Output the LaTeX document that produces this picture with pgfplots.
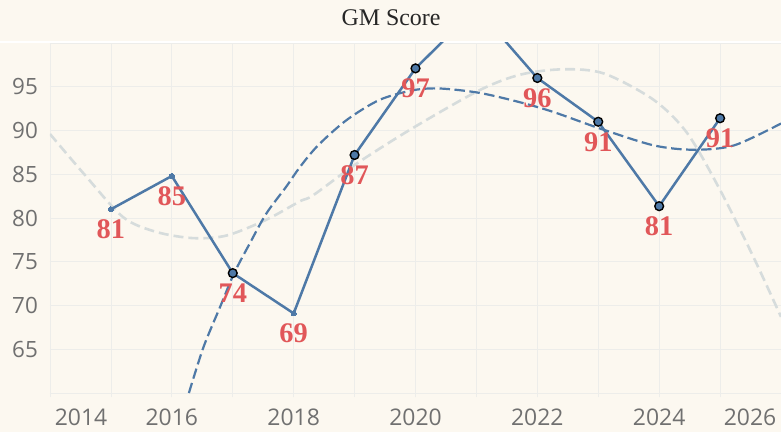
\documentclass[border=0pt]{standalone}
\usepackage{pgfplots}
\pgfplotsset{compat=1.18}
\usepackage{fontspec}
\setmainfont{Liberation Serif}
\newfontfamily\tickfont{Open Sans}
\definecolor{bg}{HTML}{FCF8F0}
\definecolor{gridc}{HTML}{EDEDEA}
\definecolor{tab}{HTML}{4E79A7}
\definecolor{trendgray}{HTML}{D6DCDC}
\definecolor{lab}{HTML}{E15759}
\definecolor{tickc}{HTML}{707070}
\begin{document}
\begin{tikzpicture}[x=1bp,y=1bp]
\fill[bg] (-50,-39) rectangle (731,393);
\useasboundingbox (-50,-39) rectangle (731,393);
\draw[white, line width=2bp] (-50,351) -- (731,351);
\node[font=\fontsize{24}{24}\selectfont, text=black!85] at (341,375) {GM Score};
\begin{axis}[at={(0,0)}, anchor=south west, scale only axis,
  width=731bp, height=350bp,
  xmin=2014, xmax=2026, ymin=60, ymax=100,
  xtick={2016,2018,...,2024}, minor xtick={2014,2015,...,2026},
  ytick={65,70,...,95}, minor ytick={60,100},
  grid=both,
  major grid style={gridc, line width=0.8bp},
  minor grid style={gridc, line width=0.8bp},
  axis line style={gridc, line width=0.8bp},
  xtick pos=bottom, ytick pos=left,
  tick align=outside, major tick length=4bp, minor tick length=4bp,
  xtick style={gridc, line width=0.8bp},
  ytick style={draw=none},
  /pgf/number format/assume math mode=true,
  /pgf/number format/1000 sep={},
  xticklabel style={font=\tickfont\fontsize{23}{23}\selectfont, text=tickc, anchor=center, yshift=-20bp},
  yticklabel style={font=\tickfont\fontsize{22.5}{22.5}\selectfont, text=tickc, anchor=east, inner sep=0pt, xshift=-8bp},
]
% gray trend
\addplot[trendgray, line width=2.6bp, dash pattern=on 10bp off 5bp, smooth] coordinates {
(2014.0,89.6) (2014.55,85.1) (2015.2,80.1) (2015.75,78.4) (2016.35,77.7) (2016.9,78.0)
(2017.55,79.8) (2018.1,81.9) (2018.32,82.6) (2019.03,86.2) (2019.96,90.3) (2021.05,94.6)
(2021.73,96.4) (2022.44,97.0) (2023.1,96.5) (2023.91,93.5) (2024.46,89.7) (2025.0,83.2)
(2025.55,75.5) (2026.0,68.7)};
% blue trend
\addplot[tab, line width=2.2bp, dash pattern=on 10.5bp off 4.5bp, smooth] coordinates {
(2016.28,60) (2016.52,65.25) (2016.79,69.8) (2017.02,73.65) (2017.28,77.1) (2017.55,80.5)
(2017.88,83.6) (2018.1,85.8) (2018.4,88.3) (2018.87,91.2) (2019.41,93.5) (2019.96,94.6)
(2020.4,94.8) (2021.05,94.3) (2021.73,93.2) (2022.27,92.1) (2023.04,90.2) (2023.91,88.3)
(2024.57,87.8) (2025.23,88.3) (2026.0,90.8)};
% main line
\addplot[tab, line width=2.5bp] coordinates {
(2015,81.0) (2016,84.8) (2017,73.7) (2018,69.1) (2019,87.2) (2020,97.1) (2021,104)
(2022,96.0) (2023,91.0) (2024,81.35) (2025,91.4)};
\addplot[only marks, mark=*, mark size=2.6bp, mark options={fill=tab, draw=tab, line width=0pt}] coordinates {
(2015,81.0) (2016,84.8) (2018,69.1)};
\addplot[only marks, mark=*, mark size=4.4bp, mark options={fill=tab, draw=black, line width=1.4bp}] coordinates {
(2017,73.7) (2019,87.2) (2020,97.1) (2022,96.0) (2023,91.0) (2024,81.35) (2025,91.4)};
% labels
\addplot[draw=none, mark=none, nodes near coords, point meta=explicit symbolic,
  every node near coord/.append style={anchor=north, inner sep=0pt, yshift=-10.5bp,
  font=\bfseries\fontsize{28.5}{28.5}\selectfont, text=lab}] table[meta=l] {
x y l
2015 81.0 81
2016 84.8 85
2017 73.7 74
2018 69.1 69
2019 87.2 87
2020 97.1 97
2022 96.0 96
2023 91.0 91
2024 81.35 81
2025 91.4 91
};
\end{axis}
\node[font=\tickfont\fontsize{23}{23}\selectfont, text=tickc] at (31,-24) {2014};
\node[font=\tickfont\fontsize{23}{23}\selectfont, text=tickc] at (700,-24) {2026};
\end{tikzpicture}
\end{document}
